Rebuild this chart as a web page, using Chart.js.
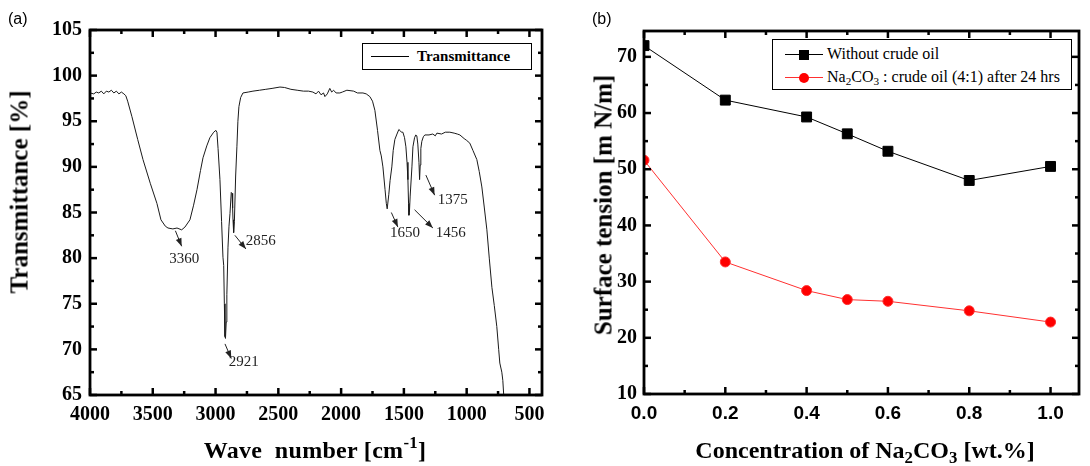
<!DOCTYPE html>
<html>
<head>
<meta charset="utf-8">
<script src="https://cdn.jsdelivr.net/npm/chart.js@4.4.1/dist/chart.umd.min.js"></script>
<style>
  body { margin: 0; background: #fff; width: 1090px; height: 466px; position: relative; overflow: hidden; font-family: "Liberation Serif", serif; color: #000; }
  canvas { position: absolute; top: 0; }
  .txt { position: absolute; white-space: nowrap; line-height: 1; }
  .tag { font-family: "Liberation Sans", Arial, sans-serif; font-size: 16px; }
  .title { font-weight: bold; font-size: 24px; transform: translate(-50%, -50%); }
  .ytitle { font-size: 25px; transform: translate(-50%, -50%) rotate(-90deg); }
  .legend { position: absolute; border: 1px solid #000; background: #fff; z-index: 2; }
  .row { position: absolute; left: 0; white-space: nowrap; line-height: 1; }
  .sample { position: absolute; top: 50%; height: 1px; }
  .mark { position: absolute; left: 50%; top: 50%; transform: translate(-50%, -50%); }
  sub { font-size: 0.7em; vertical-align: -0.3em; line-height: 0; }
  sup { font-size: 0.7em; vertical-align: 0.6em; line-height: 0; }
</style>
</head>
<body>
<canvas id="chartA" width="560" height="466" style="left:0px"></canvas>
<canvas id="chartB" width="530" height="466" style="left:560px"></canvas>

<div class="txt tag" style="left:8px;top:11px">(a)</div>
<div class="txt tag" style="left:592px;top:11px">(b)</div>

<div class="txt title ytitle" style="left:19px;top:192px">Transmittance [%]</div>
<div class="txt title" style="left:315px;top:450px;letter-spacing:0.3px">Wave&nbsp; number [cm<sup>-1</sup>]</div>
<div class="txt title ytitle" style="left:603px;top:205px">Surface tension [m N/m]</div>
<div class="txt title" style="left:865px;top:450px">Concentration of Na<sub>2</sub>CO<sub>3</sub> [wt.%]</div>

<div class="legend" id="legendA" style="left:362px;top:43px;width:168px;height:25px"></div>
<div class="legend" id="legendB" style="left:772px;top:39px;width:298px;height:49px"></div>

<script>
// (a) FTIR spectrum
const waveNumber = [
  4000, 3970, 3950, 3930, 3910, 3890, 3870, 3850, 3830, 3810, 3790, 3770, 3750, 3730, 3715, 3700,
  3666, 3620, 3578, 3520, 3467, 3435, 3400, 3379, 3340, 3307, 3270, 3244, 3204, 3175, 3148, 3120,
  3100, 3070, 3045, 3015, 2997, 2989, 2980, 2965, 2952, 2941, 2935, 2930, 2925, 2921, 2915, 2910,
  2901, 2893, 2885, 2875, 2869, 2864, 2861, 2856, 2850, 2840, 2830, 2822, 2814, 2800, 2782, 2740,
  2702, 2650, 2600, 2550, 2487, 2450, 2400, 2350, 2300, 2260, 2225, 2200, 2180, 2160, 2140, 2129,
  2110, 2090, 2075, 2060, 2040, 2010, 1990, 1954, 1900, 1870, 1826, 1800, 1771, 1750, 1731, 1710,
  1691, 1680, 1667, 1650, 1640, 1633, 1620, 1610, 1596, 1585, 1572, 1555, 1540, 1532, 1520, 1508,
  1495, 1484, 1475, 1468, 1463, 1460, 1456, 1450, 1436, 1428, 1415, 1405, 1397, 1389, 1380, 1375,
  1370, 1365, 1357, 1345, 1333, 1300, 1270, 1250, 1237, 1200, 1170, 1134, 1100, 1075, 1054, 1020,
  1000, 975, 950, 919, 900, 879, 860, 839, 820, 799, 780, 760, 745, 736, 720, 712, 704
];
const transmittance = [
  98.1, 98.0, 98.2, 98.1, 98.3, 98.0, 98.3, 98.2, 98.4, 98.1, 98.3, 98.0, 98.2, 98.0, 97.8, 97.2,
  95.5, 93.0, 90.8, 88.2, 86.0, 84.2, 83.5, 83.3, 83.2, 83.3, 83.1, 83.4, 84.2, 85.8, 87.5, 89.6,
  91.0, 92.3, 93.2, 93.8, 94.0, 93.8, 92.0, 88.6, 84.0, 80.1, 79.2, 75.0, 71.4, 71.2, 73.0, 76.0,
  81.2, 83.5, 84.9, 87.2, 87.1, 85.5, 84.2, 82.8, 84.0, 89.0, 92.2, 95.0, 96.6, 97.6, 98.1, 98.2,
  98.3, 98.4, 98.5, 98.6, 98.75, 98.7, 98.5, 98.4, 98.3, 98.3, 98.2, 98.0, 98.3, 97.9, 98.1, 97.7,
  98.0, 98.6, 98.2, 98.4, 98.1, 98.1, 98.2, 98.4, 98.3, 98.1, 98.1, 98.0, 97.7, 97.2, 96.2, 94.0,
  91.8, 91.2, 90.0, 87.5, 86.0, 85.4, 87.0, 88.5, 90.0, 91.8, 93.0, 93.6, 94.1, 94.0, 93.8, 93.8,
  93.2, 92.2, 90.5, 88.6, 86.0, 84.7, 85.0, 86.8, 90.0, 92.2, 93.2, 93.5, 93.4, 92.5, 90.5, 88.6,
  90.2, 92.0, 92.8, 93.3, 93.5, 93.5, 93.6, 93.4, 93.7, 93.6, 93.8, 93.8, 93.7, 93.6, 93.5, 93.1,
  92.9, 92.6, 91.8, 90.8, 89.5, 87.8, 85.6, 83.1, 80.0, 76.8, 74.8, 72.5, 70.0, 68.5, 67.5, 66.6, 64.8
];
const waveTicks = [4000, 3500, 3000, 2500, 2000, 1500, 1000, 500];
const transTicks = [65, 70, 75, 80, 85, 90, 95, 100, 105];

// peak labels with arrow start/end, in data units (wave number, %)
const peakLabels = ['3360', '2921', '2856', '1650', '1456', '1375'];
const peakTextAt = [[3250, 79.9], [2775, 68.6], [2640, 81.9], [1492, 82.8], [1126, 82.8], [1110, 86.4]];
const arrowFrom = [[3320, 83.0], [2925, 70.6], [2846, 82.5], [1600, 85.0], [1415, 85.3], [1325, 89.1]];
const arrowTo = [[3270, 81.3], [2875, 69.0], [2758, 81.0], [1548, 83.4], [1269, 83.3], [1255, 86.9]];

// (b) surface tension vs Na2CO3 concentration
const concentration = [0, 0.2, 0.4, 0.5, 0.6, 0.8, 1.0];
const withoutOil = [72.0, 62.3, 59.3, 56.3, 53.2, 48.0, 50.5];
const withOil = [51.6, 33.5, 28.4, 26.8, 26.5, 24.8, 22.8];
const concTicks = [0, 0.2, 0.4, 0.6, 0.8, 1.0];
const tensionTicks = [10, 20, 30, 40, 50, 60, 70];
const seriesNames = ['Without crude oil', 'Na<sub>2</sub>CO<sub>3</sub> : crude oil (4:1) after 24 hrs'];

// closed frame with inward major + minor ticks on all four sides
const frameTicks = {
  id: 'frameTicks',
  afterDatasetsDraw(chart) {
    const { ctx, chartArea: a, scales: { x, y } } = chart;
    const seg = (x1, y1, x2, y2) => { ctx.beginPath(); ctx.moveTo(x1, y1); ctx.lineTo(x2, y2); ctx.stroke(); };
    const mids = vals => vals.slice(1).map((v, i) => (v + vals[i]) / 2);
    const xv = x.ticks.map(t => t.value);
    const yv = y.ticks.map(t => t.value);
    ctx.save();
    ctx.strokeStyle = '#000';
    ctx.lineWidth = 2.5;
    const tickX = (v, len) => {
      const p = x.getPixelForValue(v);
      seg(p, a.bottom, p, a.bottom - len);
      seg(p, a.top, p, a.top + len);
    };
    const tickY = (v, len) => {
      const p = y.getPixelForValue(v);
      seg(a.left, p, a.left + len, p);
      seg(a.right, p, a.right - len, p);
    };
    xv.forEach(v => tickX(v, 7));
    mids(xv).forEach(v => tickX(v, 4));
    yv.forEach(v => tickY(v, 7));
    mids(yv).forEach(v => tickY(v, 4));
    ctx.lineWidth = 2.8;
    ctx.strokeRect(a.left, a.top, a.right - a.left, a.bottom - a.top);
    ctx.restore();
  }
};

const peakMarks = {
  id: 'peakMarks',
  afterDatasetsDraw(chart) {
    const { ctx, scales: { x, y } } = chart;
    ctx.save();
    ctx.fillStyle = '#222';
    ctx.strokeStyle = '#222';
    ctx.lineWidth = 1;
    ctx.font = '15px "Liberation Serif"';
    ctx.textAlign = 'center';
    ctx.textBaseline = 'middle';
    peakLabels.forEach((label, i) => {
      const x0 = x.getPixelForValue(arrowFrom[i][0]), y0 = y.getPixelForValue(arrowFrom[i][1]);
      const x1 = x.getPixelForValue(arrowTo[i][0]), y1 = y.getPixelForValue(arrowTo[i][1]);
      const ang = Math.atan2(y1 - y0, x1 - x0);
      ctx.beginPath();
      ctx.moveTo(x0, y0);
      ctx.lineTo(x1, y1);
      ctx.stroke();
      ctx.beginPath();
      ctx.moveTo(x1, y1);
      ctx.lineTo(x1 - 8 * Math.cos(ang) + 3 * Math.sin(ang), y1 - 8 * Math.sin(ang) - 3 * Math.cos(ang));
      ctx.lineTo(x1 - 8 * Math.cos(ang) - 3 * Math.sin(ang), y1 - 8 * Math.sin(ang) + 3 * Math.cos(ang));
      ctx.closePath();
      ctx.fill();
      ctx.fillText(label, x.getPixelForValue(peakTextAt[i][0]), y.getPixelForValue(peakTextAt[i][1]));
    });
    ctx.restore();
  }
};

const serifBold = { family: '"Liberation Serif", serif', weight: 'bold', size: 20 };

new Chart(document.getElementById('chartA'), {
  type: 'line',
  data: {
    datasets: [{
      label: 'Transmittance',
      data: waveNumber.map((w, i) => ({ x: w, y: transmittance[i] })),
      borderColor: '#1a1a1a',
      borderWidth: 1,
      pointRadius: 0,
      tension: 0,
      clip: 0
    }]
  },
  options: {
    responsive: false,
    animation: false,
    layout: { padding: { top: 30, right: 18, bottom: 26, left: 30 } },
    plugins: { legend: { display: false }, tooltip: { enabled: false } },
    scales: {
      x: {
        type: 'linear', reverse: true, min: 400, max: 4000,
        afterBuildTicks: s => { s.ticks = waveTicks.map(v => ({ value: v })); },
        afterFit: s => { s.height = 45; },
        grid: { display: false, drawTicks: false },
        border: { display: false },
        ticks: { color: '#000', font: serifBold, padding: 8, maxRotation: 0, callback: v => String(v) }
      },
      y: {
        min: 65, max: 105,
        afterBuildTicks: s => { s.ticks = transTicks.map(v => ({ value: v })); },
        afterFit: s => { s.width = 60; },
        grid: { display: false, drawTicks: false },
        border: { display: false },
        ticks: { color: '#000', font: serifBold, padding: 8, callback: v => String(v) }
      }
    }
  },
  plugins: [frameTicks, peakMarks]
});

new Chart(document.getElementById('chartB'), {
  type: 'line',
  data: {
    datasets: [{
      label: 'Without crude oil',
      data: concentration.map((c, i) => ({ x: c, y: withoutOil[i] })),
      borderColor: '#000',
      backgroundColor: '#000',
      borderWidth: 1,
      pointStyle: 'rect',
      pointRadius: 7,
      tension: 0,
      clip: 0
    }, {
      label: 'Na2CO3 : crude oil (4:1) after 24 hrs',
      data: concentration.map((c, i) => ({ x: c, y: withOil[i] })),
      borderColor: '#ff3030',
      backgroundColor: '#ff0000',
      borderWidth: 1,
      pointStyle: 'circle',
      pointRadius: 5,
      tension: 0,
      clip: 0
    }]
  },
  options: {
    responsive: false,
    animation: false,
    layout: { padding: { top: 31, right: 11, bottom: 27, left: 24 } },
    plugins: { legend: { display: false }, tooltip: { enabled: false } },
    scales: {
      x: {
        type: 'linear', min: 0, max: 1.07,
        afterBuildTicks: s => { s.ticks = concTicks.map(v => ({ value: v })); },
        afterFit: s => { s.height = 45; },
        grid: { display: false, drawTicks: false },
        border: { display: false },
        ticks: {
          color: '#000', padding: 8, maxRotation: 0,
          font: { family: '"Liberation Sans", Arial, sans-serif', weight: 'bold', size: 19 },
          callback: v => v.toFixed(1)
        }
      },
      y: {
        min: 10, max: 74.6,
        afterBuildTicks: s => { s.ticks = tensionTicks.map(v => ({ value: v })); },
        afterFit: s => { s.width = 60; },
        grid: { display: false, drawTicks: false },
        border: { display: false },
        ticks: { color: '#000', font: serifBold, padding: 7 }
      }
    }
  },
  plugins: [frameTicks]
});

// legends in html so the subscripts render
document.getElementById('legendA').innerHTML =
  '<div class="row" style="top:5px;left:8px;height:14px;width:155px">' +
  '<span class="sample" style="left:0;width:38px;background:#000"></span>' +
  '<span style="position:absolute;left:46px;top:0;font-weight:bold;font-size:15px">Transmittance</span></div>';

const legendColors = ['#000', '#ff3030'];
document.getElementById('legendB').innerHTML = seriesNames.map((name, i) => {
  const mark = i === 0
    ? '<span class="mark" style="width:10px;height:10px;background:#000"></span>'
    : '<span class="mark" style="width:10px;height:10px;border-radius:50%;background:#ff0000"></span>';
  return '<div class="row" style="top:' + (6 + i * 23) + 'px;left:12px;height:16px;width:283px">' +
    '<span class="sample" style="left:0;width:38px;background:' + legendColors[i] + '">' + mark + '</span>' +
    '<span style="position:absolute;left:42px;top:0;font-size:16px">' + name + '</span></div>';
}).join('');
</script>
</body>
</html>
